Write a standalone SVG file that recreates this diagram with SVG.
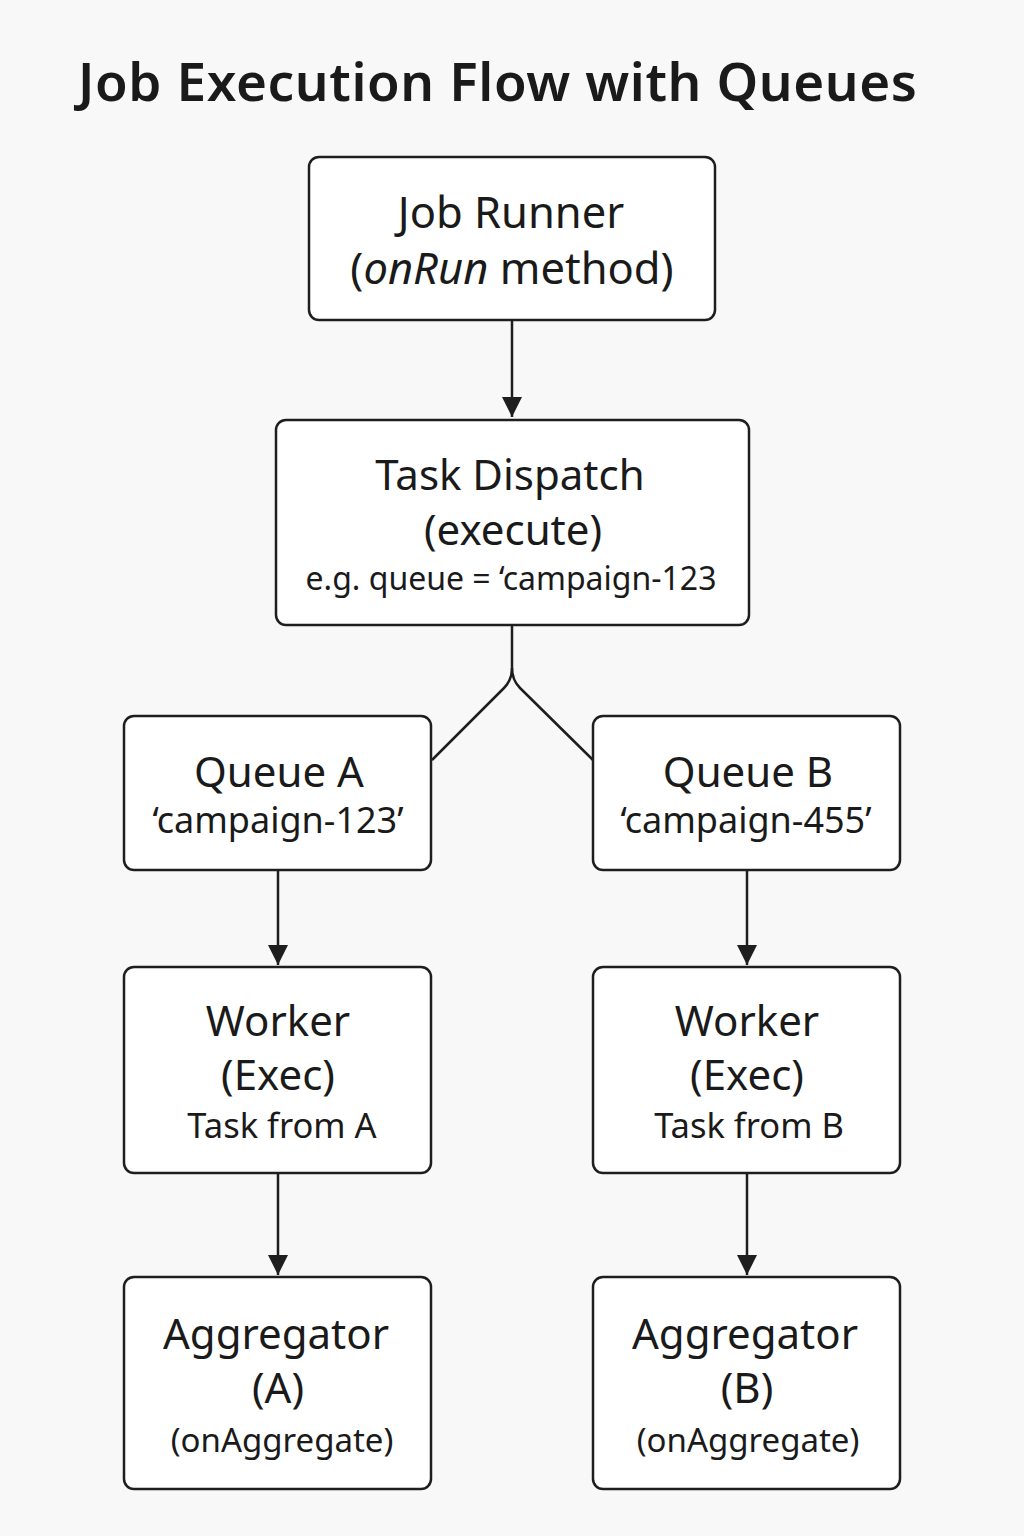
<svg xmlns="http://www.w3.org/2000/svg" width="1024" height="1536" viewBox="0 0 1024 1536">
<defs>
<style>
.bg{fill:#f8f8f8}
.box{fill:#ffffff;stroke:#1e1e1e;stroke-width:2.5}
.t{font-family:"Noto Sans","Open Sans","Liberation Sans",sans-serif;fill:#1a1a1a;text-anchor:middle}
.l1{font-size:42px}
.l2{font-size:33px}
.title{font-family:"Noto Sans","Open Sans","Liberation Sans",sans-serif;font-size:53px;font-weight:600;fill:#1a1a1a}
.edge{fill:none;stroke:#1e1e1e;stroke-width:2.5}
</style>
<marker id="ah" viewBox="0 0 20 20" refX="20" refY="10" markerWidth="20" markerHeight="20" markerUnits="userSpaceOnUse" orient="auto">
<path d="M0,0 L20,10 L0,20 Z" fill="#1e1e1e"/>
</marker>
</defs>
<rect class="bg" x="0" y="0" width="1024" height="1536"/>
<text class="title" x="78" y="101" textLength="839" lengthAdjust="spacing">Job Execution Flow with Queues</text>

<g id="connectors">
<path class="edge" d="M512,321 L512,417" marker-end="url(#ah)"/>
<path class="edge" d="M512,626 L512,668 Q512,680 504,688 L432,760"/>
<path class="edge" d="M512,668 Q512,680 520,688 L593,760"/>
<path class="edge" d="M278,871 L278,965" marker-end="url(#ah)"/>
<path class="edge" d="M747,871 L747,965" marker-end="url(#ah)"/>
<path class="edge" d="M278,1174 L278,1275" marker-end="url(#ah)"/>
<path class="edge" d="M747,1174 L747,1275" marker-end="url(#ah)"/>
</g>

<g id="job-runner">
<rect class="box" x="309" y="157" width="406" height="163" rx="10"/>
<text class="t" x="511" y="228" font-size="43.5">Job Runner</text>
<text class="t" x="512" y="284" font-size="43.5">(<tspan font-style="italic">onRun</tspan> method)</text>
</g>

<g id="task-dispatch">
<rect class="box" x="276" y="420" width="473" height="205" rx="10"/>
<text class="t l1" x="510" y="490">Task Dispatch</text>
<text class="t l1" x="513" y="545">(execute)</text>
<text class="t" x="511" y="590" font-size="32">e.g. queue = ‘campaign-123</text>
</g>

<g id="queue-a">
<rect class="box" x="124" y="716" width="307" height="154" rx="10"/>
<text class="t l1" x="279" y="787">Queue A</text>
<text class="t" x="278" y="833" font-size="36">‘campaign-123’</text>
</g>

<g id="queue-b">
<rect class="box" x="593" y="716" width="307" height="154" rx="10"/>
<text class="t l1" x="748" y="787">Queue B</text>
<text class="t" x="746" y="833" font-size="36">‘campaign-455’</text>
</g>

<g id="worker-a">
<rect class="box" x="124" y="967" width="307" height="206" rx="10"/>
<text class="t l1" x="278" y="1036">Worker</text>
<text class="t l1" x="278" y="1090">(Exec)</text>
<text class="t" x="282" y="1138" font-size="34.5">Task from A</text>
</g>

<g id="worker-b">
<rect class="box" x="593" y="967" width="307" height="206" rx="10"/>
<text class="t l1" x="747" y="1036">Worker</text>
<text class="t l1" x="747" y="1090">(Exec)</text>
<text class="t" x="749" y="1138" font-size="34.5">Task from B</text>
</g>

<g id="aggregator-a">
<rect class="box" x="124" y="1277" width="307" height="212" rx="10"/>
<text class="t l1" x="276" y="1349">Aggregator</text>
<text class="t l1" x="278" y="1403">(A)</text>
<text class="t l2" x="282" y="1452">(onAggregate)</text>
</g>

<g id="aggregator-b">
<rect class="box" x="593" y="1277" width="307" height="212" rx="10"/>
<text class="t l1" x="745" y="1349">Aggregator</text>
<text class="t l1" x="747" y="1403">(B)</text>
<text class="t l2" x="748" y="1452">(onAggregate)</text>
</g>
</svg>
